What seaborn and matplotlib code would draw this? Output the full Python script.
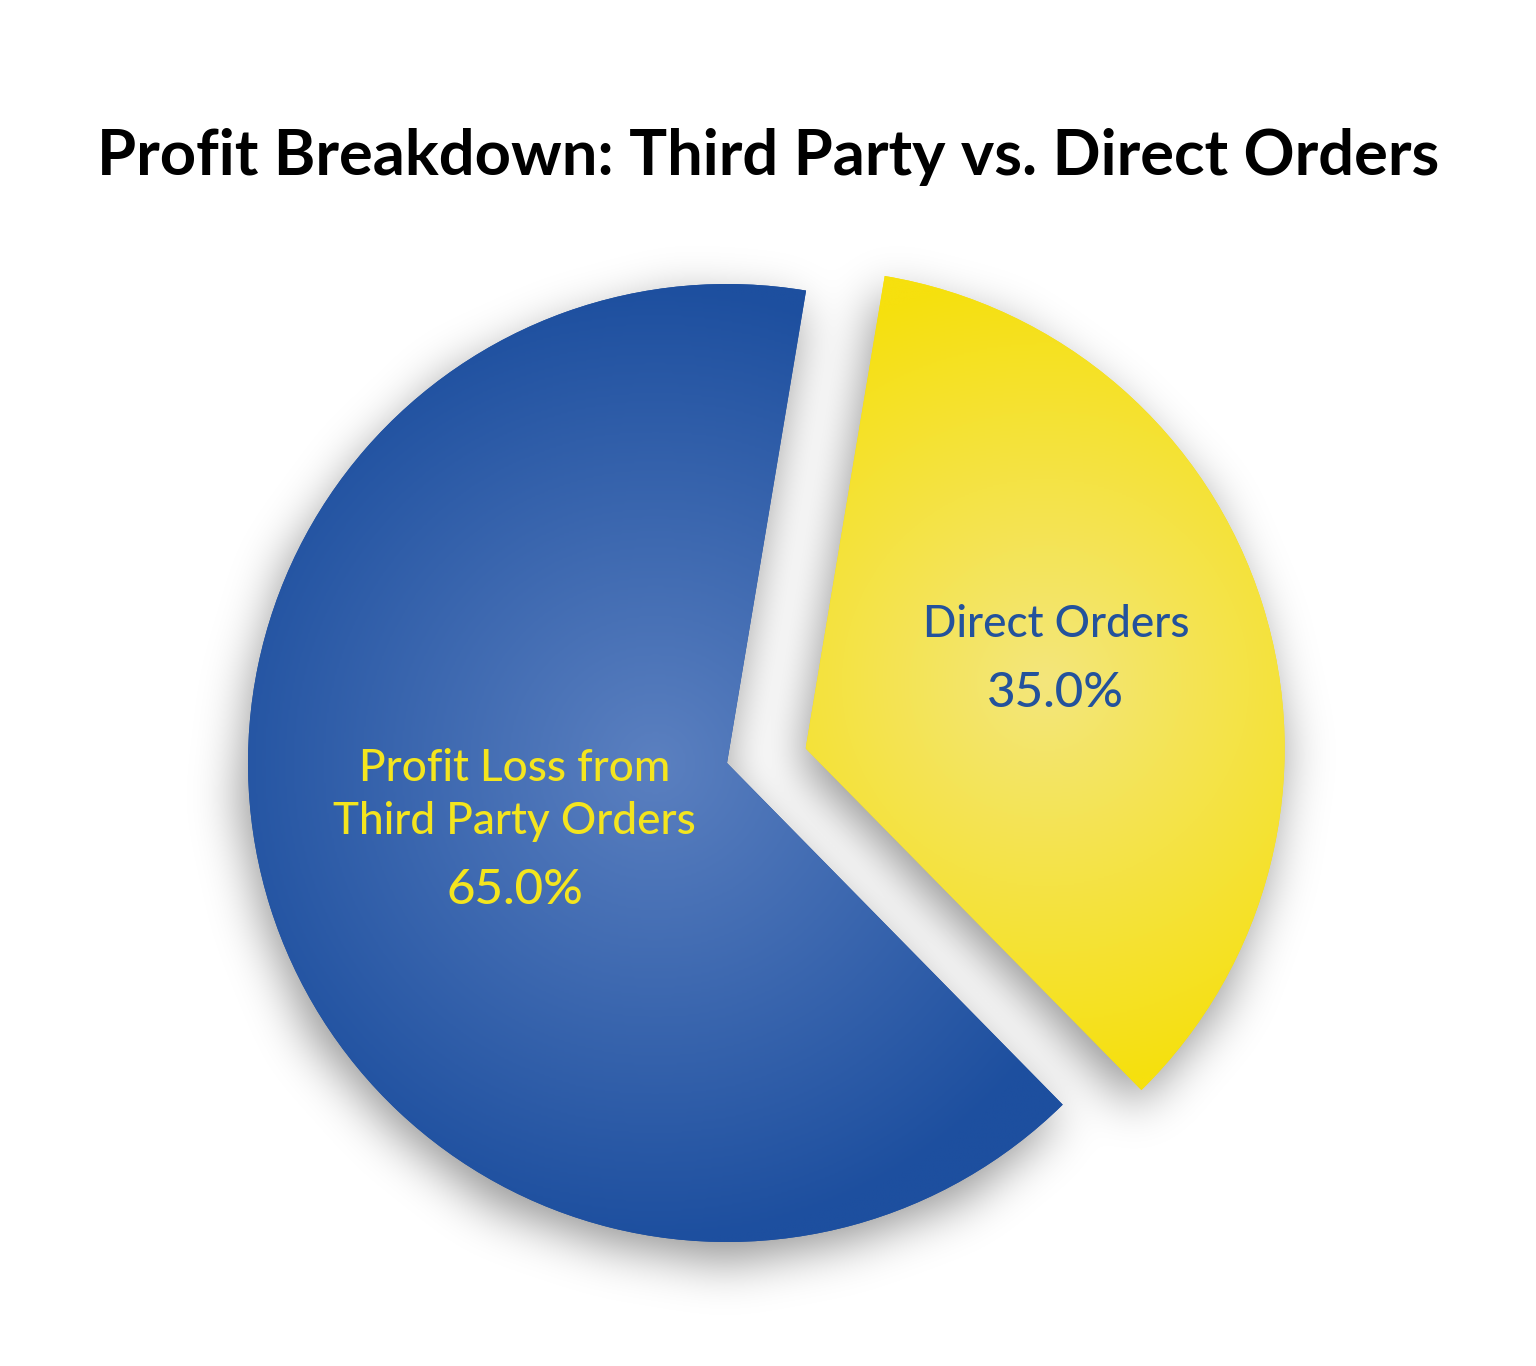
import numpy as np
import matplotlib
matplotlib.use("Agg")
import matplotlib.pyplot as plt
from matplotlib.offsetbox import TextArea, VPacker, AnnotationBbox
import seaborn as sns

# data
categories = ["Profit Loss from\nThird Party Orders", "Direct Orders"]
shares = [65.0, 35.0]
explode = [0.0, 0.167]

# gradient colours (centre -> edge) and label colours per slice
light_cols = ["#5b80c0", "#f3e67c"]
dark_cols = ["#1d4f9f", "#f6e00e"]
text_cols = ["#f4e51e", "#23529c"]
label_dist = [0.465, 0.553]
explode_tilt = -7.0  # degrees, the cut slice is pushed a bit flatter than its mid-angle

sns.set_theme(style="white")
plt.rcParams["font.family"] = ["Lato", "DejaVu Sans"]

W, H = 1536, 1366
cx, cy, R = 727, 763, 479  # pie centre / radius in pixels

fig = plt.figure(figsize=(W / 100, H / 100), dpi=100)
ax = fig.add_axes([0, 0, 1, 1])

wedges, _ = ax.pie(shares, explode=explode, colors=dark_cols, startangle=80.5,
                   counterclock=True, radius=1, wedgeprops=dict(linewidth=0))

# keep the pie's own label anchors, then re-aim the exploded slice
label_centres = [w.center for w in wedges]
for w, e in zip(wedges, explode):
    if e:
        a = np.deg2rad((w.theta1 + w.theta2) / 2 + explode_tilt)
        w.set_center((e * np.cos(a), e * np.sin(a)))

ax.set_xlim(-cx / R, (W - cx) / R)
ax.set_ylim(-(H - cy) / R, cy / R)
ax.set_aspect("auto")
ax.axis("off")


def gauss_blur(img, sigma):
    k = int(3 * sigma)
    x = np.arange(-k, k + 1)
    g = np.exp(-x ** 2 / (2 * sigma ** 2))
    g /= g.sum()
    out = np.apply_along_axis(lambda m: np.convolve(m, g, mode="same"), 0, img)
    out = np.apply_along_axis(lambda m: np.convolve(m, g, mode="same"), 1, out)
    return out


# soft drop shadow under the whole pie
step = 0.006
gx = np.arange(-1.45, 1.6, step)
gy = np.arange(-1.35, 1.35, step)
XX, YY = np.meshgrid(gx, gy)
pts = np.column_stack([XX.ravel() + 0.01, YY.ravel() + 0.035])
mask = np.zeros(XX.shape)
for w in wedges:
    path = w.get_patch_transform().transform_path(w.get_path())
    mask = np.maximum(mask, path.contains_points(pts).reshape(XX.shape).astype(float))
shadow = gauss_blur(mask, 0.05 / step)
rgba = np.zeros(XX.shape + (4,))
rgba[..., 3] = shadow * 0.42
ax.imshow(rgba, extent=[gx[0], gx[-1], gy[0], gy[-1]], origin="lower",
          zorder=0.5, interpolation="bilinear")

# radial gradient fill for each slice, clipped to the wedge
for w, lc, dc in zip(wedges, light_cols, dark_cols):
    w.set_zorder(1)
    path = w.get_patch_transform().transform_path(w.get_path())
    ext = path.get_extents()
    mx, my = (ext.x0 + ext.x1) / 2, (ext.y0 + ext.y1) / 2
    rad = max(ext.width, ext.height) / 2
    xs = np.linspace(ext.x0, ext.x1, 500)
    ys = np.linspace(ext.y0, ext.y1, 500)
    X2, Y2 = np.meshgrid(xs, ys)
    d = np.clip(np.hypot(X2 - mx, Y2 - my) / rad, 0, 1)
    cmap = sns.blend_palette([lc, dc], as_cmap=True)
    im = ax.imshow(d, cmap=cmap, vmin=0, vmax=1, origin="lower",
                   extent=[ext.x0, ext.x1, ext.y0, ext.y1], zorder=2,
                   interpolation="bilinear")
    im.set_clip_path(w)

# labels
total = sum(shares)
for w, c0, name, val, tc, dist in zip(wedges, label_centres, categories, shares,
                                      text_cols, label_dist):
    mid = np.deg2rad((w.theta1 + w.theta2) / 2)
    px, py = c0[0] + dist * np.cos(mid), c0[1] + dist * np.sin(mid)
    name_box = TextArea(name, textprops=dict(color=tc, fontsize=31.7, family="Lato",
                                             fontweight="medium",
                                             ha="center", multialignment="center",
                                             linespacing=1.35))
    pct_box = TextArea(f"{val / total * 100:.1f}%",
                       textprops=dict(color=tc, fontsize=35.5, family="Lato",
                                      fontweight="medium", ha="center"))
    pack = VPacker(children=[name_box, pct_box], align="center", pad=0, sep=19)
    ab = AnnotationBbox(pack, (px, py), frameon=False, box_alignment=(0.5, 0.5), zorder=5)
    ax.add_artist(ab)

fig.text(0.5, 1 - 175 / H, "Profit Breakdown: Third Party vs. Direct Orders",
         ha="center", va="baseline", fontsize=45.5, fontweight="bold",
         family="Lato", color="black")

fig.savefig("out.png", dpi=100, facecolor="white")
